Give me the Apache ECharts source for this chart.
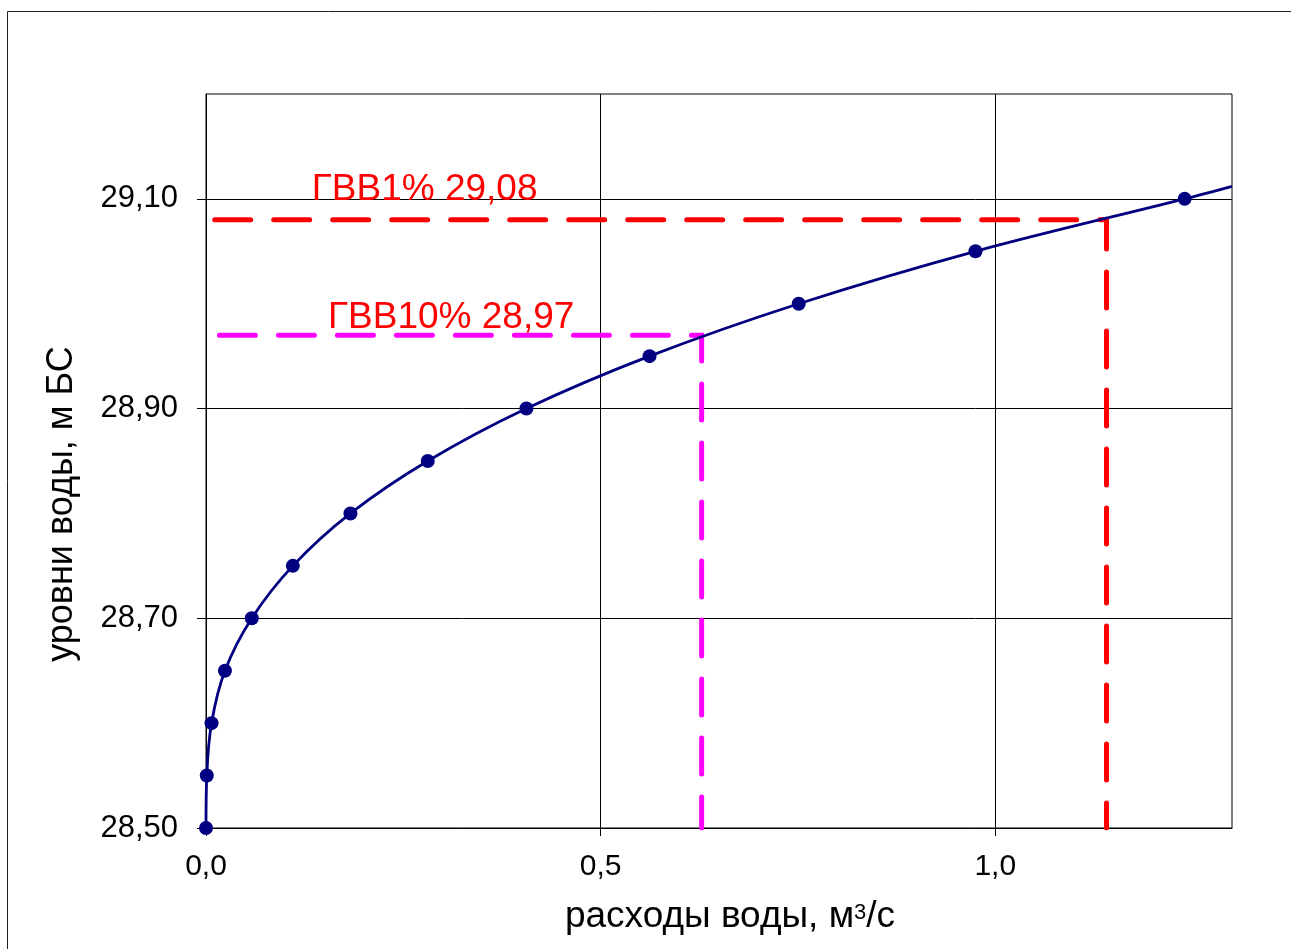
<!DOCTYPE html>
<html>
<head>
<meta charset="utf-8">
<script src="https://cdn.jsdelivr.net/npm/echarts@6/dist/echarts.min.js"></script>
<style>
  html, body { margin: 0; padding: 0; background: #fff; }
  #chart { width: 1291px; height: 949px; }
</style>
</head>
<body>
<div id="chart"></div>
<script>
// Stage–discharge curve: water discharge (m³/s) against water level (m, Baltic system)
const discharge = [0.000, 0.001, 0.007, 0.024, 0.058, 0.110, 0.183, 0.281, 0.406, 0.562, 0.751, 0.975, 1.240];
const stage     = [28.50, 28.55, 28.60, 28.65, 28.70, 28.75, 28.80, 28.85, 28.90, 28.95, 29.00, 29.05, 29.10];

// the fitted curve runs on past the last point to the edge of the axis
const curveTailQ = [1.30];
const curveTailH = [29.112];

// design high-water levels (ГВВ) and the discharges where they meet the curve
const floodNames  = ['ГВВ1%', 'ГВВ10%'];
const floodLevels = [29.08, 28.97];
const floodQ      = [1.141, 0.628];

// axis ticks
const xTicks = [0.0, 0.5, 1.0];
const yTicks = [28.50, 28.70, 28.90, 29.10];

const FONT = 'Liberation Sans, Arial, sans-serif';
const fmtQ = v => v.toFixed(1).replace('.', ',');
const fmtH = v => v.toFixed(2).replace('.', ',');

// layout of the dashed guides and their captions (axis units)
const guideStartQ = [0.011, 0.017];
const guideColors = ['#ff0000', '#ff00ff'];
const captionAt   = [[0.277, 29.109], [0.3107, 28.987]];

const curvePoints = discharge.map((q, i) => [q, stage[i]])
  .concat(curveTailQ.map((q, i) => [q, curveTailH[i]]));
const gaugePoints = discharge.map((q, i) => [q, stage[i]]);

const guideSeries = floodLevels.map((h, i) => ({
  type: 'line',
  silent: true,
  symbol: 'none',
  z: 3,
  data: [[guideStartQ[i], h], [floodQ[i], h], [floodQ[i], 28.5]],
  lineStyle: { color: guideColors[i], width: 5, type: [36, 23], cap: 'round', join: 'miter' }
}));

const captionSeries = floodLevels.map((h, i) => ({
  type: 'scatter',
  silent: true,
  symbolSize: 0,
  z: 6,
  data: [captionAt[i]],
  itemStyle: { opacity: 1 },
  label: {
    show: true,
    position: 'inside',
    formatter: floodNames[i] + ' ' + fmtH(h),
    color: '#ff0000',
    opacity: 1,
    fontFamily: FONT,
    fontSize: 37
  }
}));

// x-axis title with a raised exponent: three text pieces laid side by side
const titleMain = '37px ' + FONT;
const titleSup = '22px ' + FONT;
const measure = (() => {
  const ctx = document.createElement('canvas').getContext('2d');
  return (text, font) => { ctx.font = font; return ctx.measureText(text).width; };
})();
const xTitleParts = [
  { text: 'расходы воды, м', font: titleMain, sup: false },
  { text: '3', font: titleSup, sup: true },
  { text: '/с', font: titleMain, sup: false }
];
const xTitleCenter = 730;
const xTitleWidth = xTitleParts.reduce((s, p) => s + measure(p.text, p.font), 0);
let cursor = xTitleCenter - xTitleWidth / 2;
const xTitleGraphics = xTitleParts.map(p => {
  const g = {
    type: 'text', silent: true,
    x: cursor, y: p.sup ? 902 : 917,
    style: {
      text: p.text, font: p.font, fill: '#000',
      align: 'left', verticalAlign: p.sup ? 'top' : 'middle'
    }
  };
  cursor += measure(p.text, p.font);
  return g;
});

const chart = echarts.init(document.getElementById('chart'), null, { renderer: 'canvas' });

chart.setOption({
  backgroundColor: '#ffffff',
  animation: false,
  grid: {
    left: 206, top: 94, right: 59, bottom: 121,
    show: true, borderColor: '#000', borderWidth: 1, backgroundColor: 'transparent'
  },
  xAxis: {
    type: 'value',
    min: 0, max: 1.3, interval: 0.5,
    axisLine: { show: true, onZero: false, lineStyle: { color: '#000', width: 1 } },
    axisTick: { show: true, inside: false, length: 8, lineStyle: { color: '#000' }, customValues: xTicks },
    axisLabel: {
      customValues: xTicks,
      formatter: fmtQ, margin: 24,
      color: '#000', fontFamily: FONT, fontSize: 30
    },
    splitLine: { show: true, lineStyle: { color: '#000', width: 1 } }
  },
  yAxis: {
    type: 'value',
    min: 28.5, max: 29.2, interval: 0.2,
    axisLine: { show: true, onZero: false, lineStyle: { color: '#000', width: 1 } },
    axisTick: { show: true, inside: false, length: 9, lineStyle: { color: '#000' }, customValues: yTicks },
    axisLabel: {
      customValues: yTicks,
      formatter: fmtH, margin: 28,
      color: '#000', fontFamily: FONT, fontSize: 31
    },
    splitLine: { show: true, lineStyle: { color: '#000', width: 1 } }
  },
  series: [
    ...guideSeries,
    {
      type: 'line',
      silent: true,
      symbol: 'none',
      smooth: 0.35,
      z: 4,
      data: curvePoints,
      lineStyle: { color: '#000080', width: 2.8 }
    },
    {
      type: 'scatter',
      silent: true,
      symbol: 'circle',
      symbolSize: 14,
      z: 5,
      data: gaugePoints,
      itemStyle: { color: '#000080', opacity: 1 }
    },
    ...captionSeries
  ],
  graphic: [
    {
      type: 'rect', silent: true, z: 0,
      shape: { x: 7.5, y: 11.5, width: 1400, height: 1000 },
      style: { fill: 'none', stroke: '#222', lineWidth: 1 }
    },
    ...xTitleGraphics,
    {
      type: 'text', silent: true,
      x: 62, y: 504, rotation: Math.PI / 2,
      style: {
        text: 'уровни воды, м БС',
        font: '36px ' + FONT, fill: '#000',
        align: 'center', verticalAlign: 'middle'
      }
    }
  ]
});
</script>
</body>
</html>
